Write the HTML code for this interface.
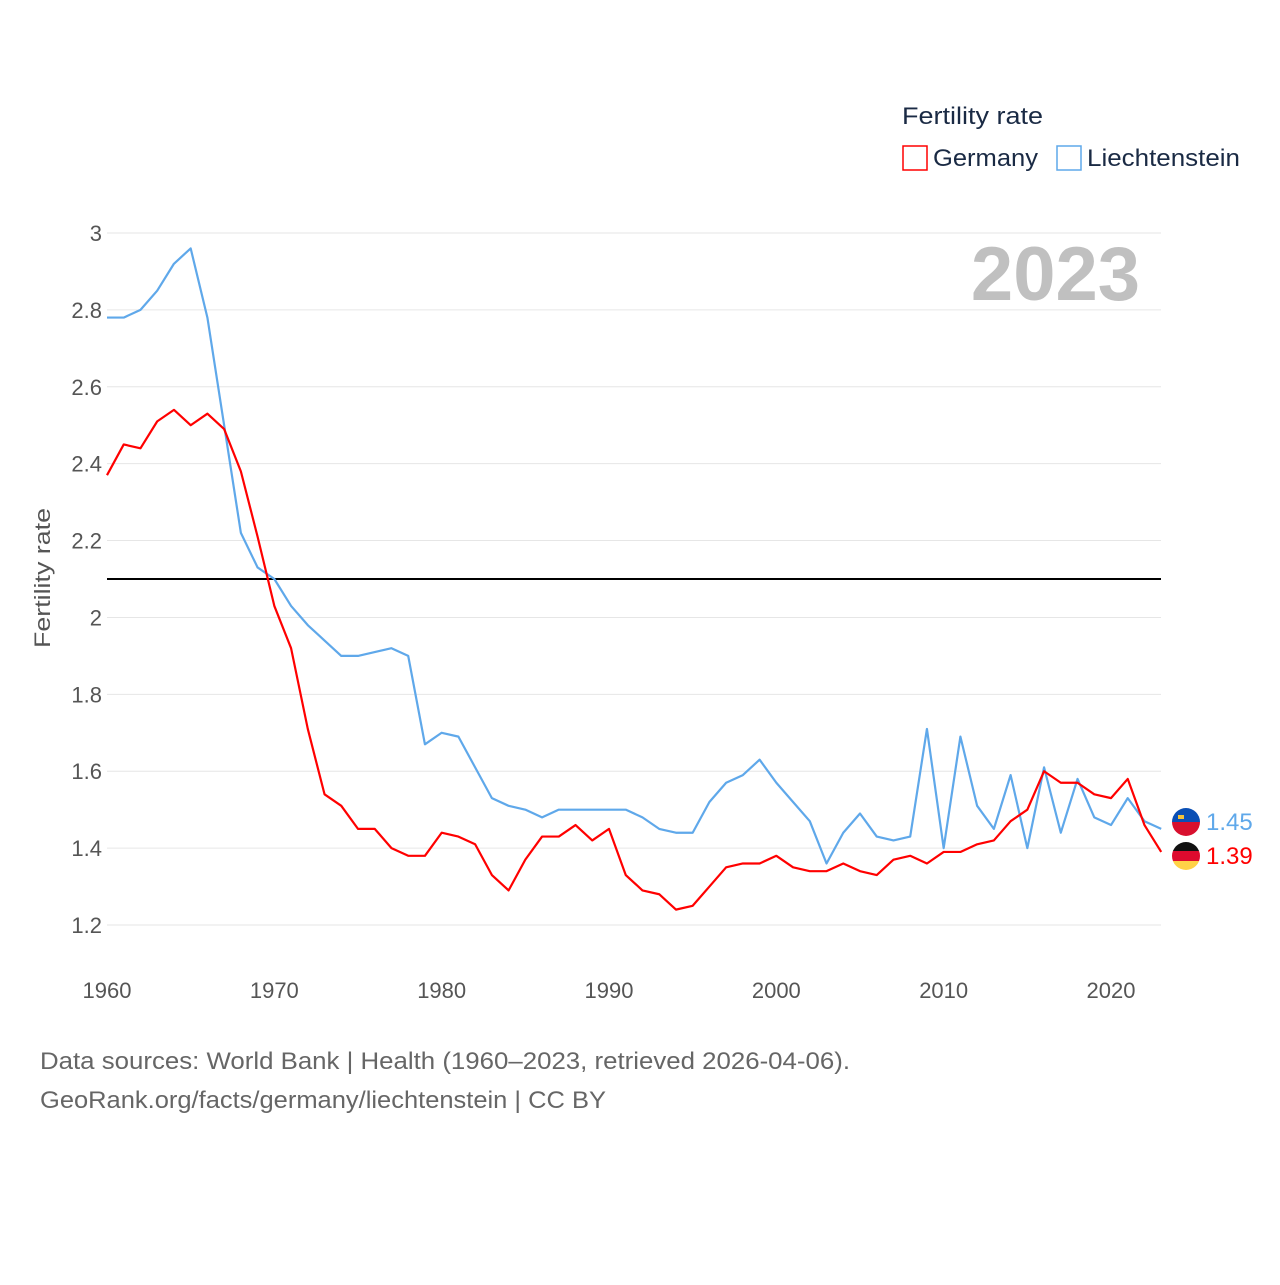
<!DOCTYPE html>
<html><head><meta charset="utf-8"><style>
body{margin:0;background:#fff;}
svg text{font-family:"Liberation Sans",sans-serif;}
</style></head><body>
<svg id="chart" width="1280" height="1280" viewBox="0 0 1280 1280" xmlns="http://www.w3.org/2000/svg">
<g id="grid"></g>
<g id="yticks"></g>
<g id="xticks"></g>
<text transform="translate(50,578) rotate(-90)" text-anchor="middle" font-size="22" fill="#555" textLength="140" lengthAdjust="spacingAndGlyphs">Fertility rate</text>
<text x="1140" y="300" text-anchor="end" font-size="76" font-weight="bold" fill="#c0c0c0">2023</text>
<line id="repl" stroke="#000" stroke-width="2"/>
<g id="series"></g>
<g>
<text x="902" y="124" font-size="24" fill="#1a2a44" textLength="141" lengthAdjust="spacingAndGlyphs">Fertility rate</text>
<rect x="903" y="146" width="24" height="24" fill="none" stroke="#f00" stroke-width="1.5"/>
<text x="933" y="166" font-size="24" fill="#1a2a44" textLength="105" lengthAdjust="spacingAndGlyphs">Germany</text>
<rect x="1057" y="146" width="24" height="24" fill="none" stroke="#5fa8ea" stroke-width="1.5"/>
<text x="1087" y="166" font-size="24" fill="#1a2a44" textLength="153" lengthAdjust="spacingAndGlyphs">Liechtenstein</text>
</g>
<g>
<clipPath id="c1"><circle cx="1186" cy="822" r="14"/></clipPath>
<g clip-path="url(#c1)"><rect x="1170" y="806" width="32" height="16" fill="#0a4fb5"/><rect x="1170" y="822" width="32" height="16" fill="#d8102e"/><rect x="1178" y="815" width="6" height="4" fill="#f3c33b"/></g>
<clipPath id="c2"><circle cx="1186" cy="856" r="14"/></clipPath>
<g clip-path="url(#c2)"><rect x="1170" y="840" width="32" height="11" fill="#111"/><rect x="1170" y="851" width="32" height="10" fill="#dd0a2e"/><rect x="1170" y="861" width="32" height="12" fill="#ffd247"/></g>
<text x="1206" y="830" font-size="24" fill="#5fa8ea">1.45</text>
<text x="1206" y="864" font-size="24" fill="#f00">1.39</text>
</g>
<text x="40" y="1069" font-size="24" fill="#666" textLength="810" lengthAdjust="spacingAndGlyphs">Data sources: World Bank | Health (1960–2023, retrieved 2026-04-06).</text>
<text x="40" y="1108" font-size="24" fill="#666" textLength="566" lengthAdjust="spacingAndGlyphs">GeoRank.org/facts/germany/liechtenstein | CC BY</text>
</svg>
<script>
const years=[];for(let y=1960;y<=2023;y++)years.push(y);
const germany=[2.37,2.45,2.44,2.51,2.54,2.50,2.53,2.49,2.38,2.21,2.03,1.92,1.71,1.54,1.51,1.45,1.45,1.40,1.38,1.38,1.44,1.43,1.41,1.33,1.29,1.37,1.43,1.43,1.46,1.42,1.45,1.33,1.29,1.28,1.24,1.25,1.30,1.35,1.36,1.36,1.38,1.35,1.34,1.34,1.36,1.34,1.33,1.37,1.38,1.36,1.39,1.39,1.41,1.42,1.47,1.50,1.60,1.57,1.57,1.54,1.53,1.58,1.46,1.39];
const liechtenstein=[2.78,2.78,2.80,2.85,2.92,2.96,2.78,2.50,2.22,2.13,2.10,2.03,1.98,1.94,1.90,1.90,1.91,1.92,1.90,1.67,1.70,1.69,1.61,1.53,1.51,1.50,1.48,1.50,1.50,1.50,1.50,1.50,1.48,1.45,1.44,1.44,1.52,1.57,1.59,1.63,1.57,1.52,1.47,1.36,1.44,1.49,1.43,1.42,1.43,1.71,1.40,1.69,1.51,1.45,1.59,1.40,1.61,1.44,1.58,1.48,1.46,1.53,1.47,1.45];
const yTicks=[1.2,1.4,1.6,1.8,2,2.2,2.4,2.6,2.8,3];
const xTicks=[1960,1970,1980,1990,2000,2010,2020];
const replacement=2.1;
const X=y=>107+(y-1960)*(1111-107)/60;
const Y=v=>233+(3-v)*(925-233)/1.8;
const NS='http://www.w3.org/2000/svg';
function mk(t,a,p){const e=document.createElementNS(NS,t);for(const k in a)e.setAttribute(k,a[k]);p.appendChild(e);return e;}
const grid=document.getElementById('grid'),yt=document.getElementById('yticks'),xt=document.getElementById('xticks'),ser=document.getElementById('series');
yTicks.forEach(v=>{
 const l=mk('line',{x1:107,x2:1161,y1:Y(v),y2:Y(v),stroke:'#e6e6e6','stroke-width':1},grid);
 
 
 const t=mk('text',{x:102,y:Y(v)+8,'text-anchor':'end','font-size':22,fill:'#555'},yt);
 t.textContent=String(v);
 
 
});
xTicks.forEach(v=>{
 const t=mk('text',{x:X(v),y:998,'text-anchor':'middle','font-size':22,fill:'#555'},xt);
 t.textContent=String(v);
 
 
});
const r=document.getElementById('repl');
r.setAttribute('x1',107);r.setAttribute('x2',1161);r.setAttribute('y1',Y(replacement));r.setAttribute('y2',Y(replacement));
function line(data,color,name){
 const p=mk('polyline',{points:data.map((v,i)=>X(years[i])+','+Y(v)).join(' '),fill:'none',stroke:color,'stroke-width':2.2,'stroke-linejoin':'round'},ser);
 
 
}
line(liechtenstein,'#5fa8ea','liechtenstein-line');
line(germany,'#f00','germany-line');
</script>
</body></html>
